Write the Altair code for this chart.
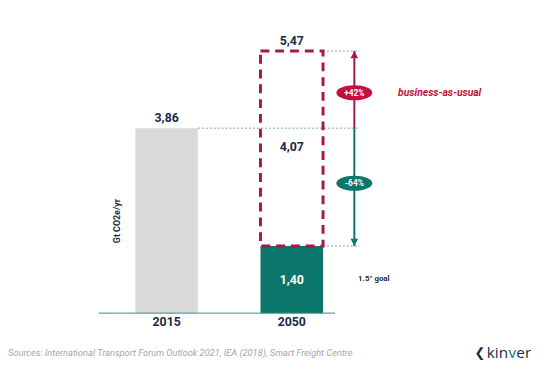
import altair as alt
import pandas as pd

# ---- data ----
years = ["2015", "2050"]
emissions = [3.86, 1.40]          # Gt CO2e/yr
bau_2050 = 5.47                   # business-as-usual 2050
gap_2050 = 4.07
pct_up = "+42%"
pct_down = "-64%"
y_title = "Gt CO2e/yr"
bau_label = "business-as-usual"
goal_label = "1.5° goal"
source = "Sources: International Transport Forum Outlook 2021, IEA (2018), Smart Freight Centre"

# ---- styles ----
NAVY = "#1b2a47"
TEAL = "#0b766b"
GREY = "#d9d9d9"
CRIMSON = "#a6174f"
RED = "#c3103d"
DOT = "#6fa8a0"
FONT = "Roboto"

def fmt(v):
    return f"{v:.2f}".replace(".", ",")

pos = [1, 2]
half = 0.25
arrow_x = 2.5
dot_end = 2.54

X = alt.Scale(domain=[-0.268, 4.016], nice=False, zero=False)
Y = alt.Scale(domain=[-1.090, 6.313], nice=False, zero=False)

def xe(f):
    return alt.X(f, type="quantitative", scale=X, axis=None)

def ye(f):
    return alt.Y(f, type="quantitative", scale=Y, axis=None)

bars = pd.DataFrame({
    "x0": [p - half for p in pos], "x1": [p + half for p in pos],
    "base": [0, 0], "v": emissions, "color": [GREY, TEAL],
})
bar_layer = alt.Chart(bars).mark_rect().encode(
    x=xe("x0"), x2="x1", y=ye("base"), y2="v",
    color=alt.Color("color:N", scale=None),
)

box = pd.DataFrame({"x0": [pos[1] - half], "x1": [pos[1] + half],
                    "y0": [emissions[1]], "y1": [bau_2050]})
box_layer = alt.Chart(box).mark_rect(
    fillOpacity=0, stroke=CRIMSON, strokeWidth=3, strokeDash=[9, 6]
).encode(x=xe("x0"), x2="x1", y=ye("y0"), y2="y1")

axis_df = pd.DataFrame({"x0": [0.457], "x1": [2.346], "y": [0]})
axis_layer = alt.Chart(axis_df).mark_rule(color="#3d8a80", strokeWidth=1).encode(
    x=xe("x0"), x2="x1", y=ye("y"))

dots = pd.DataFrame({
    "x0": [pos[0] + half, pos[1] + half, pos[1] + half],
    "x1": [dot_end] * 3,
    "y": [emissions[0], bau_2050, emissions[1]],
})
dot_layer = alt.Chart(dots).mark_rule(color=DOT, strokeWidth=1, strokeDash=[2, 2]).encode(
    x=xe("x0"), x2="x1", y=ye("y"))

arrows = pd.DataFrame({
    "x": [arrow_x, arrow_x],
    "y0": [emissions[0], emissions[0]],
    "y1": [bau_2050, emissions[1]],
    "color": [CRIMSON, TEAL],
})
arrow_layer = alt.Chart(arrows).mark_rule(strokeWidth=2).encode(
    x=xe("x"), y=ye("y0"), y2="y1", color=alt.Color("color:N", scale=None))

head_up = alt.Chart(pd.DataFrame({"x": [arrow_x], "y": [bau_2050]})).mark_point(
    shape="M0,0L-0.55,1.05L0.55,1.05Z", filled=True, fill=CRIMSON, size=196, opacity=1
).encode(x=xe("x"), y=ye("y"))
head_down = alt.Chart(pd.DataFrame({"x": [arrow_x], "y": [emissions[1]]})).mark_point(
    shape="M0,0L-0.55,-1.05L0.55,-1.05Z", filled=True, fill=TEAL, size=196, opacity=1
).encode(x=xe("x"), y=ye("y"))

ell = pd.DataFrame({"x": [arrow_x, arrow_x], "y": [4.60, 2.71],
                    "t": [pct_up, pct_down], "color": [RED, TEAL]})
ell_layer = alt.Chart(ell).mark_point(
    shape="M-1,0A1,0.42 0 1,0 1,0A1,0.42 0 1,0 -1,0Z",
    filled=True, size=1330, opacity=1,
).encode(x=xe("x"), y=ye("y"), fill=alt.Fill("color:N", scale=None))
ell_text = alt.Chart(ell).mark_text(
    font=FONT, fontSize=8.5, fontWeight="bold", color="white", baseline="middle"
).encode(x=xe("x"), y=ye("y"), text="t")

vals = pd.DataFrame({"x": [pos[0], pos[1]], "y": [emissions[0], bau_2050],
                     "t": [fmt(emissions[0]), fmt(bau_2050)]})
val_layer = alt.Chart(vals).mark_text(
    font=FONT, fontSize=12.5, fontWeight="bold", color=NAVY, baseline="alphabetic", dy=-6
).encode(x=xe("x"), y=ye("y"), text="t")

gap = pd.DataFrame({"x": [pos[1]], "y": [3.46], "t": [fmt(gap_2050)]})
gap_layer = alt.Chart(gap).mark_text(
    font=FONT, fontSize=12.5, fontWeight="bold", color=NAVY, baseline="middle"
).encode(x=xe("x"), y=ye("y"), text="t")

inner = pd.DataFrame({"x": [pos[1]], "y": [emissions[1] / 2], "t": [fmt(emissions[1])]})
inner_layer = alt.Chart(inner).mark_text(
    font=FONT, fontSize=12.5, fontWeight="bold", color="white", baseline="middle"
).encode(x=xe("x"), y=ye("y"), text="t")

yr = pd.DataFrame({"x": pos, "y": [-0.195, -0.195], "t": years})
yr_layer = alt.Chart(yr).mark_text(
    font=FONT, fontSize=12.5, fontWeight="bold", color=NAVY, baseline="middle"
).encode(x=xe("x"), y=ye("y"), text="t")

ytitle = alt.Chart(pd.DataFrame({"x": [0.606], "y": [1.92], "t": [y_title]})).mark_text(
    font=FONT, fontSize=9, fontWeight="bold", color=NAVY, angle=270, baseline="middle"
).encode(x=xe("x"), y=ye("y"), text="t")

bau_t = alt.Chart(pd.DataFrame({"x": [2.85], "y": [4.60], "t": [bau_label]})).mark_text(
    font=FONT, fontSize=10.5, fontWeight="bold", fontStyle="italic", color=RED,
    align="left", baseline="middle"
).encode(x=xe("x"), y=ye("y"), text="t")

goal_t = alt.Chart(pd.DataFrame({"x": [2.53], "y": [0.72], "t": [goal_label]})).mark_text(
    font=FONT, fontSize=8, fontWeight="bold", color=NAVY, align="left", baseline="middle"
).encode(x=xe("x"), y=ye("y"), text="t")

src_t = alt.Chart(pd.DataFrame({"x": [-0.268], "y": [-0.843], "t": [source]})).mark_text(
    font=FONT, fontSize=9.4, fontStyle="italic", color="#a6a6a6", align="left", baseline="middle"
).encode(x=xe("x"), y=ye("y"), text="t")

chev_t = alt.Chart(pd.DataFrame({"x": [3.504], "y": [-0.84], "t": ["❮"]})).mark_text(
    font="DejaVu Sans", fontSize=13, fontWeight="bold", color=NAVY, align="center", baseline="middle"
).encode(x=xe("x"), y=ye("y"), text="t")

logo = pd.DataFrame({"x": [3.559, 3.732, 3.795], "y": [-0.84] * 3,
                     "t": ["kin", "v", "er"],
                     "color": [NAVY, TEAL, NAVY]})
logo_t = alt.Chart(logo).mark_text(
    font="Open Sans", fontSize=15.5, align="left", baseline="middle"
).encode(x=xe("x"), y=ye("y"), text="t", color=alt.Color("color:N", scale=None))

chart = alt.layer(
    bar_layer, axis_layer, dot_layer, box_layer, arrow_layer, head_up, head_down,
    ell_layer, ell_text, val_layer, gap_layer, inner_layer, yr_layer, ytitle,
    bau_t, goal_t, src_t, chev_t, logo_t,
).properties(width=544, height=360, padding=0, autosize="none").configure_view(strokeWidth=0)

chart.save("out.html", embed_options={"renderer": "svg", "actions": False})
